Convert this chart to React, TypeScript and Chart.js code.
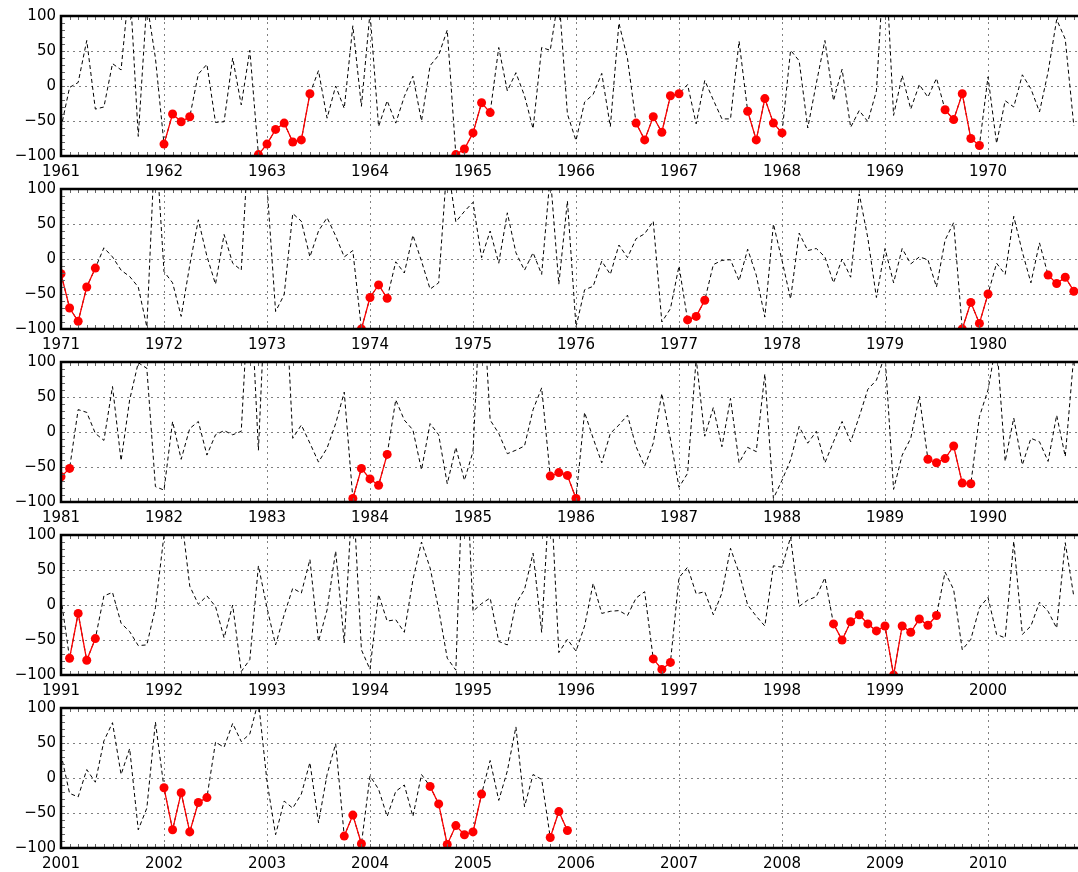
import React, { useEffect, useRef } from "react";
import { Chart, registerables } from "chart.js";

Chart.register(...registerables);

// ---- data (monthly values, index 0 = January of the decade's first year) ----
const decadeStarts = [1961, 1971, 1981, 1991, 2001];
const yTickValues = [-100, -50, 0, 50, 100];
const yearTickMonths = [0, 12, 24, 36, 48, 60, 72, 84, 96, 108];

const anomaly1961 = [
  -60, -2, 5, 65, -33, -30, 32, 23, 150, -72, 120, 40,
  -83, -40, -51, -44, 17, 31, -52, -51, 40, -27, 51, -98,
  -83, -62, -53, -80, -77, -11, 22, -46, 0, -32, 86, -29,
  105, -58, -21, -53, -15, 14, -50, 29, 44, 80, -98, -90,
  -67, -24, -38, 55, -7, 19, -14, -61, 55, 51, 130, -40,
  -78, -23, -12, 18, -58, 90, 39, -53, -77, -44, -66, -14,
  -11, 2, -54, 8, -20, -47, -47, 64, -36, -77, -18, -53,
  -67, 51, 36, -60, 4, 65, -21, 24, -59, -35, -51, -7,
  200, -42, 15, -33, 2, -16, 11, -34, -48, -11, -75, -85,
  13, -82, -21, -30, 16, -4, -37, 20, 95, 67, -57,
];
const events1961 = [12, 13, 14, 15, 23, 24, 25, 26, 27, 28, 29, 46, 47, 48, 49, 50, 67, 68, 69, 70, 71, 72, 80, 81, 82, 83, 84, 103, 104, 105, 106, 107];

const anomaly1971 = [
  -21, -70, -89, -40, -13, 16, 3, -16, -25, -40, -97, 180,
  -18, -34, -82, -9, 56, 4, -36, 35, -6, -16, 200, 200,
  105, -75, -51, 65, 54, 3, 40, 59, 33, 3, 12, -100,
  -55, -37, -56, -4, -20, 34, -3, -43, -34, 140, 53, 68,
  81, 2, 40, -6, 66, 9, -16, 9, -22, 120, -36, 83,
  -97, -44, -39, -3, -22, 20, 2, 29, 36, 54, -90, -71,
  -10, -87, -82, -59, -8, -2, -1, -31, 14, -23, -83, 50,
  -2, -57, 37, 12, 15, 3, -34, 0, -26, 93, 30, -55,
  15, -34, 15, -7, 3, -1, -40, 27, 52, -100, -62, -92,
  -50, -6, -22, 61, 10, -34, 23, -23, -35, -26, -46,
];
const events1971 = [0, 1, 2, 3, 4, 35, 36, 37, 38, 73, 74, 75, 105, 106, 107, 108, 115, 116, 117, 118];

const anomaly1981 = [
  -64, -52, 32, 28, -2, -12, 65, -41, 46, 99, 91, -78,
  -83, 15, -39, 5, 15, -33, -4, 2, -4, 1, 230, -26,
  250, 250, 240, -9, 10, -16, -43, -23, 12, 57, -95, -52,
  -67, -76, -32, 46, 17, 3, -54, 12, -4, -74, -22, -69,
  -28, 228, 17, -2, -31, -26, -20, 32, 63, -63, -58, -62,
  -95, 28, -9, -44, -2, 10, 24, -21, -49, -16, 55, -10,
  -79, -59, 105, -6, 35, -21, 48, -44, -22, -28, 83, -95,
  -69, -40, 8, -16, 1, -44, -14, 15, -14, 22, 61, 74,
  110, -82, -33, -9, 51, -39, -44, -38, -20, -73, -74, 22,
  60, 130, -42, 20, -47, -9, -14, -42, 24, -35, 110,
];
const events1981 = [0, 1, 34, 35, 36, 37, 38, 57, 58, 59, 60, 101, 102, 103, 104, 105, 106];

const anomaly1991 = [
  10, -76, -12, -79, -48, 13, 18, -26, -38, -58, -57, -4,
  100, 160, 131, 27, 1, 13, -2, -47, 0, -95, -78, 56,
  -4, -57, -14, 24, 17, 65, -52, -7, 77, -54, 170, -64,
  -92, 15, -23, -21, -39, 36, 90, 53, -6, -76, -93, 260,
  -9, 2, 10, -52, -57, 2, 22, 74, -39, 180, -68, -49,
  -66, -30, 31, -12, -9, -8, -15, 10, 19, -77, -92, -82,
  39, 54, 16, 19, -14, 17, 81, 46, 0, -16, -30, 56,
  54, 97, -2, 7, 12, 39, -27, -50, -24, -14, -27, -37,
  -30, -100, -30, -39, -20, -29, -15, 47, 22, -64, -49, -4,
  11, -42, -47, 91, -42, -30, 4, -9, -33, 89, 12,
];
const events1991 = [1, 2, 3, 4, 69, 70, 71, 90, 91, 92, 93, 94, 95, 96, 97, 98, 99, 100, 101, 102];

const anomaly2001 = [
  34, -22, -27, 12, -6, 53, 79, 5, 42, -74, -43, 80,
  -14, -74, -21, -77, -35, -28, 51, 44, 78, 52, 63, 110,
  -5, -81, -33, -43, -23, 22, -64, 5, 49, -83, -53, -94,
  3, -16, -55, -19, -10, -55, 5, -12, -37, -95, -68, -81,
  -77, -23, 25, -32, 10, 73, -41, 5, -2, -85, -48, -75,
];
const events2001 = [12, 13, 14, 15, 16, 17, 33, 34, 35, 43, 44, 45, 46, 47, 48, 49, 57, 58, 59];

const panelValues = [anomaly1961, anomaly1971, anomaly1981, anomaly1991, anomaly2001];
const panelEvents = [events1961, events1971, events1981, events1991, events2001];

const FONT = { family: "'DejaVu Sans', sans-serif", size: 15 };
const GRID_COLOR = "#808080";
const PLOT_TOP = 16;
const PLOT_H = 140;
const CANVAS_W = 1095;
const CANVAS_H = 190;
const MONTH_PX = 103 / 12;

const framePlugin = {
  id: "frame",
  afterDraw(chart: any) {
    const { ctx, chartArea } = chart;
    const { left, right, top, bottom } = chartArea;
    const xs = chart.scales.x;
    const ys = chart.scales.y;
    ctx.save();
    ctx.strokeStyle = "#666";
    ctx.lineWidth = 1;
    ctx.beginPath();
    for (let m = 1; m <= Math.floor(xs.max); m++) {
      const px = Math.round(xs.getPixelForValue(m)) + 0.5;
      ctx.moveTo(px, top + 1);
      ctx.lineTo(px, top + 4);
      ctx.moveTo(px, bottom - 1);
      ctx.lineTo(px, bottom - 4);
    }
    for (let v = -90; v <= 90; v += 10) {
      const py = Math.round(ys.getPixelForValue(v)) + 0.5;
      ctx.moveTo(left + 1, py);
      ctx.lineTo(left + 4, py);
    }
    ctx.stroke();
    ctx.strokeStyle = "#000";
    ctx.lineWidth = 2.5;
    ctx.beginPath();
    ctx.moveTo(left, top);
    ctx.lineTo(right, top);
    ctx.moveTo(left, bottom);
    ctx.lineTo(right, bottom);
    ctx.moveTo(left, top - 1.25);
    ctx.lineTo(left, bottom + 1.25);
    ctx.stroke();
    ctx.restore();
  },
};

function Panel({ index, top }: { index: number; top: number }) {
  const ref = useRef<HTMLCanvasElement | null>(null);
  useEffect(() => {
    const values = panelValues[index];
    const events = new Set(panelEvents[index]);
    const startYear = decadeStarts[index];
    const black = values.map((v, i) => ({ x: i, y: v }));
    const red = values.map((v, i) => ({ x: i, y: events.has(i) ? v : null }));
    const chart = new Chart(ref.current as HTMLCanvasElement, {
      type: "line",
      data: {
        datasets: [
          {
            data: red as any,
            borderColor: "#ff0000",
            backgroundColor: "#ff0000",
            borderWidth: 1.3,
            pointRadius: 4.5,
            pointBorderWidth: 0,
            pointBackgroundColor: "#ff0000",
            spanGaps: false,
            tension: 0,
            order: 0,
          },
          {
            data: black as any,
            borderColor: "#000000",
            borderWidth: 1,
            borderDash: [4, 3],
            pointRadius: 0,
            tension: 0,
            order: 1,
          },
        ],
      },
      options: {
        animation: false,
        responsive: false,
        maintainAspectRatio: false,
        events: [],
        layout: { padding: { top: PLOT_TOP, left: 0, right: 0, bottom: 0 } },
        plugins: { legend: { display: false }, tooltip: { enabled: false } },
        scales: {
          x: {
            type: "linear",
            min: 0,
            max: 120,
            afterFit: (s: any) => {
              s.height = CANVAS_H - PLOT_TOP - PLOT_H;
            },
            afterBuildTicks: (s: any) => {
              s.ticks = yearTickMonths.map((v) => ({ value: v }));
            },
            ticks: {
              callback: (v: any) => String(startYear + Math.round(Number(v) / 12)),
              color: "#000",
              font: FONT,
              padding: 7,
              maxRotation: 0,
              autoSkip: false,
            },
            grid: {
              color: (c: any) => (c.tick && c.tick.value === 0 ? "rgba(0,0,0,0)" : GRID_COLOR),
              lineWidth: 1,
              drawTicks: false,
            },
            border: { display: false, dash: [2, 4] },
          },
          y: {
            type: "linear",
            min: -100,
            max: 100,
            afterFit: (s: any) => {
              s.width = 61;
            },
            afterBuildTicks: (s: any) => {
              s.ticks = yTickValues.map((v) => ({ value: v }));
            },
            ticks: {
              callback: (v: any) => (Number(v) < 0 ? "\u2212" + Math.abs(Number(v)) : String(v)),
              color: "#000",
              font: FONT,
              padding: 5,
            },
            grid: {
              color: (c: any) => (c.tick && Math.abs(c.tick.value) === 100 ? "rgba(0,0,0,0)" : GRID_COLOR),
              lineWidth: 1,
              drawTicks: false,
            },
            border: { display: false, dash: [2, 4] },
          },
        },
      },
      plugins: [framePlugin],
    });
    // keep one month = MONTH_PX pixels whatever width the layout gave the plot
    const ca = chart.chartArea;
    (chart.options.scales as any).x.max = (ca.right - ca.left) / MONTH_PX;
    chart.update();
    return () => chart.destroy();
  }, [index]);
  return (
    <canvas
      ref={ref}
      width={CANVAS_W}
      height={CANVAS_H}
      style={{ position: "absolute", left: 0, top, width: CANVAS_W, height: CANVAS_H, display: "block" }}
    />
  );
}

export default function App() {
  const panels = [0, 1, 2, 3, 4];
  return (
    <div style={{ position: "absolute", left: 0, top: 0, width: 1078, height: 872, background: "#fff", overflow: "hidden" }}>
      {panels.map((i) => (
        <Panel key={i} index={i} top={173 * i} />
      ))}
    </div>
  );
}
